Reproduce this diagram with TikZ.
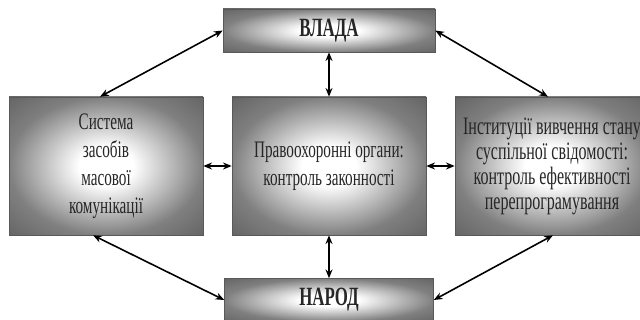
\documentclass[tikz,border=0pt]{standalone}
\usepackage{fontspec}
\setmainfont{Liberation Serif}[FakeStretch=0.64]
\usetikzlibrary{shapes,arrows,arrows.meta}
\definecolor{boxline}{gray}{0.35}
\definecolor{boxtext}{gray}{0.15}
\pgfdeclareradialshading{boxglow}{\pgfpoint{0bp}{0bp}}{color(0bp)=(white); color(7bp)=(white); color(25bp)=(black!50); color(35bp)=(black!60); color(50bp)=(black!60)}
\tikzset{block/.style={draw=boxline, line width=0.6pt, shade, shading=boxglow, text=boxtext, align=center, inner sep=2pt, minimum width=7.76cm, minimum height=5.52cm, font=\fontsize{27}{32}\selectfont}}
\tikzset{head/.style={block, minimum width=8.48cm, minimum height=1.72cm, text=black!85, font=\fontsize{30}{32}\selectfont\bfseries}}
\tikzset{link/.style={{Stealth[length=10pt,width=8pt]}-{Stealth[length=10pt,width=8pt]}, line width=1.8pt}}

\begin{document}
\begin{tikzpicture}[node distance=8.92cm]
\useasboundingbox (0,0) rectangle (25.6,-12.8);
\node [block] (pravo) at (13.16,-6.64) {Правоохоронні органи:\\контроль законності};
\node [block] (zmk) [left of=pravo] {Система\\засобів\\масової\\комунікації};
\node [block, font=\fontsize{28.5}{28.5}\selectfont] (inst) [right of=pravo] {Інституції вивчення стану\\суспільної свідомості:\\контроль ефективності\\перепрограмування};
\node [head] (vlada) [above of=pravo, node distance=5.42cm] {ВЛАДА};
\node [head, minimum width=8.36cm] (narod) [below of=pravo, node distance=5.36cm] {НАРОД};
%Edge
\draw [link] (vlada.west) -- ([xshift=-0.24cm]zmk.north);
\draw [link] (vlada.east) -- ([xshift=-0.16cm]inst.north);
\draw [link] (vlada) -- (pravo);
\draw [link] (zmk) -- (pravo);
\draw [link] (pravo) -- (inst);
\draw [link] (pravo) -- (narod);
\draw [link] ([xshift=-0.52cm]zmk.south) -- (narod.west);
\draw [link] ([xshift=0.04cm]inst.south) -- (narod.east);
\end{tikzpicture}
\end{document}
